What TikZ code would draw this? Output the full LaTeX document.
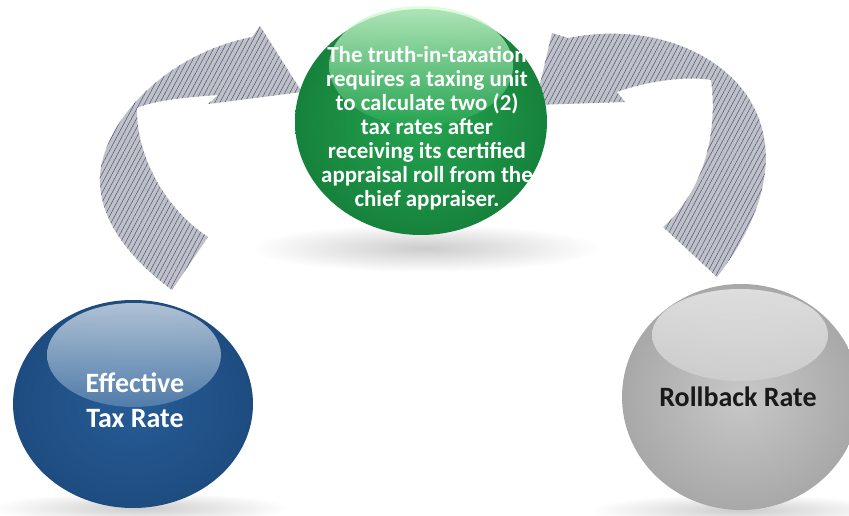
\documentclass[tikz,border=0pt]{standalone}
\usepackage{fontspec}
\setmainfont{Carlito}
\usetikzlibrary{patterns.meta}

\definecolor{bandgray}{RGB}{192,193,198}
\definecolor{bandline}{RGB}{78,90,130}
\definecolor{greenmain}{RGB}{36,164,80}
\definecolor{greenrim}{RGB}{22,130,60}
\definecolor{bluemain}{RGB}{38,92,150}
\definecolor{bluerim}{RGB}{30,76,128}
\definecolor{graymain}{RGB}{200,200,200}
\definecolor{grayrim}{RGB}{168,168,168}

\tikzset{every picture/.style={line width=0.75pt}}
\tikzset{
  band/.style={fill=bandgray, postaction={pattern={Lines[angle=62,distance=3.3pt,line width=0.4pt]}, pattern color=bandline}},
  glow/.style={fill opacity=0.8},
  bigtext/.style={align=center, font=\bfseries\fontsize{21}{26}\selectfont},
  smalltext/.style={align=center, text=white, font=\bfseries\fontsize{17.2}{18}\selectfont}
}

\begin{document}
\begin{tikzpicture}[x=0.75pt,y=0.75pt,yscale=-1,xscale=1]
	\useasboundingbox (0,0) rectangle (849,516);

	%Shadows
	\shade [inner color=black!20, outer color=white] (425,248) ellipse (175 and 24);
	\shade [inner color=black!20, outer color=white] (140,508) ellipse (150 and 16);
	\shade [inner color=black!20, outer color=white] (740,510) ellipse (150 and 16);

	%Shape: Left arrow band
	\path [band] (172,290) .. controls (118,250) and (92,205) .. (102,162) .. controls (115,108) and (175,52) .. (252,37) -- (260,26) -- (302,92) -- (208,104) -- (218,95) .. controls (190,97) and (155,100) .. (137,108) .. controls (136,150) and (160,205) .. (208,237) -- cycle ;
	%Shape: Right arrow band
	\path [band] (717,277) .. controls (765,215) and (782,150) .. (748,97) .. controls (718,52) and (650,22) .. (568,38) -- (552,33) -- (535,105) -- (625,102) -- (617,92) .. controls (650,80) and (690,76) .. (711,80) .. controls (718,130) and (705,190) .. (663,227) -- cycle ;

	%Shape: Green sphere
	\shade [inner color=greenmain, outer color=greenrim] (421,122) ellipse (126 and 113);
	\shade [glow, top color=green!15!white, bottom color=greenmain] (421,66) ellipse (92 and 60);
	%Shape: Blue sphere
	\shade [inner color=bluemain, outer color=bluerim] (133,404) ellipse (120 and 104);
	\shade [glow, top color=bluemain!20!white, bottom color=bluemain!75!white] (134,355) ellipse (87 and 52);
	%Shape: Gray sphere
	\shade [inner color=graymain, outer color=grayrim] (741,397) ellipse (119 and 113);
	\shade [glow, top color=white!92!black, bottom color=graymain!85!white] (740,335) ellipse (88 and 46);

	% Text Node
	\node [smalltext] (truth) at (427,128) {The truth-in-taxation\\requires a taxing unit\\to calculate two (2)\\tax rates after\\receiving its certified\\appraisal roll from the\\chief appraiser.};
	% Text Node
	\node [bigtext, text=white] (effective) at (135,400) {Effective\\Tax Rate};
	% Text Node
	\node [bigtext, text=black!90] (rollback) at (738,397) {Rollback Rate};

\end{tikzpicture}
\end{document}
